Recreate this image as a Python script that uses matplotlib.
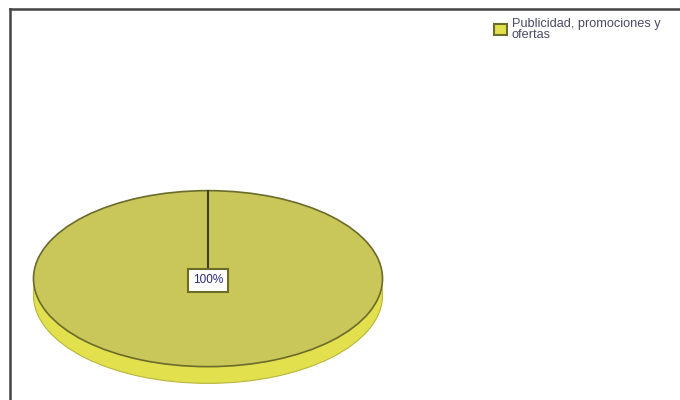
import numpy as np
import matplotlib
matplotlib.use("Agg")
import matplotlib.pyplot as plt
from matplotlib.patches import Patch

# ===================== 数据 =====================
categories = ["Publicidad, promociones y\nofertas"]
values = [100]

top_color = "#c9c65a"
side_color = "#e2e04c"
edge_color = "#6b6b2a"

plt.rcParams["font.family"] = ["Liberation Sans", "DejaVu Sans"]

fig = plt.figure(figsize=(6.8, 4.0), dpi=100)
fig.patch.set_facecolor("white")

# ===================== 外框（只有上边和左边） =====================
frame = fig.add_axes([10 / 680, 0, 1 - 10 / 680, 1 - 9 / 400])
frame.set_xticks([])
frame.set_yticks([])
frame.patch.set_alpha(0)
for s in ["right", "bottom"]:
    frame.spines[s].set_visible(False)
for s in ["top", "left"]:
    frame.spines[s].set_color("#444444")
    frame.spines[s].set_linewidth(1.8)

# ===================== 3D 饼图 =====================
depth = 0.19
ax = fig.add_axes([30 / 680, 14 / 400, 356 / 680, 198 / 400])
start = 90

# 侧面：多层叠加做出厚度
for d in np.linspace(depth, 0.01, 20):
    ax.pie(values, colors=[side_color], startangle=start, center=(0, -d),
           wedgeprops=dict(edgecolor="none"))
ax.pie(values, colors=[side_color], startangle=start, center=(0, -depth),
       wedgeprops=dict(edgecolor="#b8b640", linewidth=0.8))

# 顶面
wedges, texts, autotexts = ax.pie(
    values, colors=[top_color], startangle=start, autopct="%1.0f%%",
    pctdistance=0.0,
    wedgeprops=dict(edgecolor=edge_color, linewidth=1.2),
    textprops=dict(fontsize=8.5, color="#2a2a78"))
for t in autotexts:
    t.set_bbox(dict(boxstyle="square,pad=0.45", facecolor="white",
                    edgecolor=edge_color, linewidth=1.5))
    t.set_y(-0.02)

# 扇区起始边
a = np.deg2rad(start)
ax.plot([0, np.cos(a)], [0, np.sin(a)], color="#3f3f1a", linewidth=1.5)

ax.set_aspect("auto")
ax.set_xlim(-1.02, 1.02)
ax.set_ylim(-1.0 - depth - 0.03, 1.03)
ax.axis("off")

# ===================== 图例 =====================
handles = [Patch(facecolor=side_color, edgecolor=edge_color, linewidth=1.5)]
leg = fig.legend(handles, categories, loc="upper left",
                 bbox_to_anchor=(488 / 680, 1 - 12 / 400), frameon=False,
                 fontsize=9.2, handlelength=0.95, handleheight=0.95,
                 handletextpad=0.4, borderpad=0, labelspacing=0)
for t in leg.get_texts():
    t.set_color("#4a4a66")
    t.set_linespacing(0.85)

fig.savefig("out.png", dpi=100)
